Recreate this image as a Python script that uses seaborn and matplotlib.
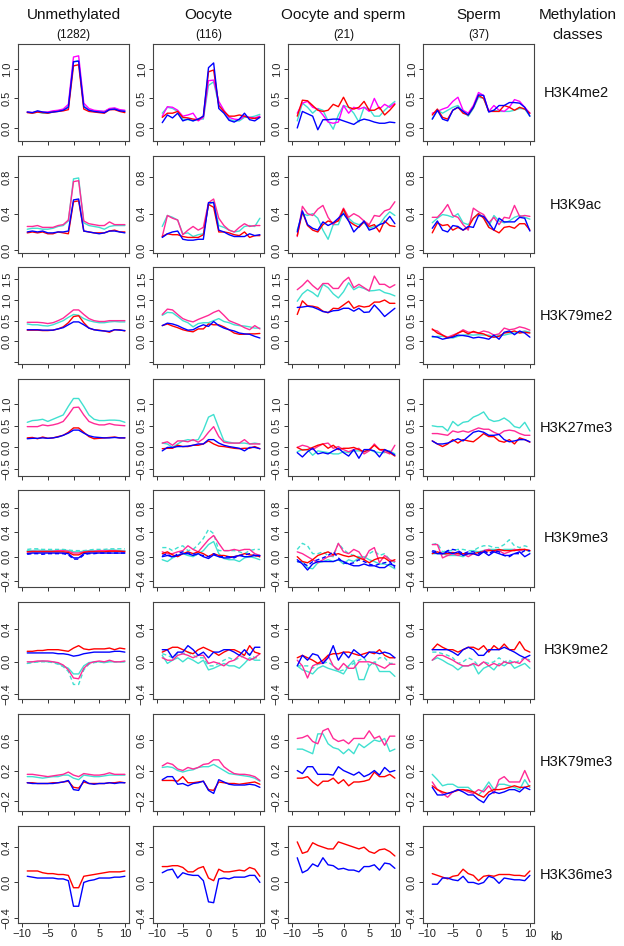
import matplotlib
matplotlib.use("Agg")
import matplotlib.pyplot as plt
import seaborn as sns

# bins along the gene (kb), one value per bin
kb = list(range(-9, 11))

classes = ["Unmethylated", "Oocyte", "Oocyte and sperm", "Sperm"]
class_counts = ["(1282)", "(116)", "(21)", "(37)"]
marks = ["H3K4me2", "H3K9ac", "H3K79me2", "H3K27me3",
         "H3K9me3", "H3K9me2", "H3K79me3", "H3K36me3"]

# each series: one list per methylation class (Unmethylated, Oocyte, Oocyte+sperm, Sperm)
# ---- H3K4me2
k4me2_red = [
    [0.26,0.25,0.27,0.26,0.25,0.27,0.28,0.29,0.31,1.05,1.07,0.32,0.28,0.27,0.26,0.25,0.31,0.31,0.28,0.26],
    [0.18,0.25,0.25,0.28,0.18,0.17,0.15,0.14,0.20,0.95,0.98,0.38,0.28,0.20,0.20,0.22,0.20,0.17,0.16,0.18],
    [0.20,0.47,0.46,0.38,0.30,0.28,0.30,0.40,0.36,0.52,0.35,0.32,0.35,0.45,0.30,0.30,0.35,0.22,0.30,0.40],
    [0.22,0.32,0.18,0.15,0.30,0.35,0.25,0.22,0.35,0.55,0.50,0.28,0.28,0.28,0.38,0.35,0.30,0.35,0.32,0.25]]
k4me2_blue = [
    [0.27,0.26,0.29,0.27,0.26,0.27,0.28,0.30,0.35,1.12,1.13,0.36,0.30,0.28,0.27,0.26,0.31,0.32,0.29,0.28],
    [0.09,0.22,0.17,0.25,0.12,0.15,0.12,0.15,0.20,1.02,1.10,0.33,0.25,0.13,0.10,0.15,0.25,0.14,0.12,0.18],
    [0.00,0.28,0.24,0.20,-0.03,0.14,0.14,0.15,0.15,0.12,0.09,0.06,0.12,0.15,0.13,0.10,0.08,0.08,0.10,0.09],
    [0.15,0.30,0.15,0.12,0.30,0.35,0.28,0.22,0.35,0.56,0.55,0.27,0.30,0.38,0.38,0.43,0.43,0.42,0.35,0.20]]
k4me2_cyan = [
    [0.27,0.25,0.27,0.25,0.25,0.27,0.29,0.31,0.37,1.12,1.14,0.37,0.31,0.29,0.28,0.28,0.32,0.33,0.30,0.29],
    [0.25,0.35,0.33,0.28,0.15,0.14,0.12,0.16,0.15,0.72,0.78,0.40,0.28,0.15,0.12,0.12,0.18,0.18,0.20,0.23],
    [0.12,0.42,0.35,0.25,0.33,0.30,0.12,-0.02,0.22,0.38,0.35,0.25,0.10,0.35,0.32,0.20,0.20,0.30,0.38,0.45],
    [0.15,0.30,0.25,0.30,0.35,0.38,0.28,0.20,0.33,0.52,0.50,0.28,0.30,0.28,0.28,0.28,0.30,0.33,0.32,0.20]]
k4me2_magenta = [
    [0.27,0.26,0.28,0.27,0.27,0.29,0.30,0.32,0.40,1.20,1.22,0.42,0.33,0.30,0.29,0.28,0.33,0.34,0.31,0.30],
    [0.20,0.36,0.35,0.30,0.20,0.22,0.25,0.12,0.18,0.80,0.81,0.45,0.30,0.18,0.15,0.14,0.20,0.18,0.17,0.20],
    [0.25,0.42,0.45,0.35,0.32,0.22,0.10,0.08,0.10,0.38,0.25,0.35,0.32,0.35,0.28,0.50,0.32,0.40,0.35,0.42],
    [0.25,0.28,0.32,0.35,0.45,0.52,0.30,0.25,0.38,0.60,0.55,0.28,0.38,0.30,0.28,0.35,0.48,0.45,0.35,0.25]]

# ---- H3K9ac
k9ac_red = [
    [0.19,0.20,0.19,0.20,0.18,0.18,0.20,0.19,0.18,0.53,0.54,0.21,0.20,0.19,0.19,0.19,0.21,0.22,0.20,0.20],
    [0.15,0.18,0.17,0.17,0.15,0.14,0.14,0.14,0.17,0.50,0.47,0.20,0.20,0.19,0.17,0.16,0.20,0.14,0.16,0.16],
    [0.16,0.42,0.27,0.22,0.20,0.28,0.32,0.30,0.32,0.45,0.32,0.28,0.25,0.31,0.26,0.28,0.20,0.32,0.27,0.26],
    [0.19,0.30,0.27,0.28,0.22,0.25,0.22,0.25,0.35,0.40,0.35,0.25,0.22,0.19,0.25,0.26,0.24,0.29,0.29,0.22]]
k9ac_blue = [
    [0.20,0.21,0.20,0.21,0.19,0.19,0.20,0.20,0.21,0.55,0.56,0.21,0.20,0.19,0.18,0.19,0.21,0.21,0.20,0.19],
    [0.14,0.18,0.20,0.21,0.12,0.11,0.11,0.12,0.12,0.52,0.52,0.22,0.20,0.17,0.15,0.15,0.15,0.18,0.16,0.17],
    [0.20,0.43,0.28,0.24,0.22,0.31,0.27,0.30,0.35,0.40,0.32,0.20,0.26,0.32,0.22,0.24,0.28,0.30,0.37,0.29],
    [0.24,0.32,0.22,0.20,0.27,0.26,0.22,0.26,0.25,0.38,0.37,0.30,0.22,0.35,0.31,0.31,0.31,0.36,0.35,0.21]]
k9ac_cyan = [
    [0.23,0.24,0.24,0.23,0.23,0.24,0.26,0.27,0.32,0.78,0.79,0.30,0.27,0.26,0.25,0.23,0.26,0.27,0.27,0.27],
    [0.26,0.38,0.36,0.33,0.18,0.19,0.15,0.17,0.18,0.50,0.53,0.27,0.25,0.22,0.20,0.21,0.26,0.27,0.26,0.35],
    [0.22,0.40,0.38,0.40,0.35,0.22,0.12,0.28,0.28,0.42,0.35,0.30,0.28,0.30,0.24,0.26,0.28,0.36,0.42,0.38],
    [0.30,0.35,0.39,0.38,0.36,0.40,0.30,0.28,0.35,0.40,0.36,0.26,0.38,0.32,0.30,0.32,0.36,0.38,0.36,0.34]]
k9ac_pink = [
    [0.26,0.26,0.27,0.25,0.25,0.25,0.27,0.28,0.33,0.75,0.76,0.32,0.29,0.28,0.27,0.27,0.31,0.28,0.28,0.28],
    [0.15,0.38,0.35,0.33,0.17,0.22,0.26,0.22,0.25,0.52,0.56,0.35,0.27,0.22,0.20,0.25,0.29,0.26,0.27,0.27],
    [0.15,0.48,0.40,0.38,0.45,0.49,0.36,0.28,0.34,0.46,0.36,0.40,0.37,0.32,0.28,0.38,0.37,0.43,0.45,0.53],
    [0.36,0.36,0.42,0.50,0.38,0.36,0.28,0.22,0.46,0.42,0.39,0.30,0.36,0.28,0.36,0.35,0.49,0.37,0.38,0.37]]

# ---- H3K79me2
k79me2_red = [
    [0.27,0.27,0.27,0.26,0.26,0.27,0.30,0.35,0.45,0.60,0.62,0.45,0.32,0.28,0.27,0.25,0.22,0.28,0.28,0.25],
    [0.38,0.42,0.37,0.33,0.28,0.25,0.23,0.30,0.30,0.42,0.40,0.40,0.35,0.28,0.20,0.17,0.17,0.18,0.18,0.19],
    [0.65,0.98,0.86,0.85,0.82,0.73,0.69,0.80,0.79,0.88,0.97,0.80,0.86,0.83,0.85,0.95,0.95,1.00,0.92,0.92],
    [0.30,0.20,0.15,0.08,0.12,0.20,0.25,0.18,0.24,0.20,0.18,0.12,0.10,0.12,0.20,0.22,0.25,0.20,0.22,0.20]]
k79me2_blue = [
    [0.28,0.28,0.28,0.27,0.27,0.27,0.30,0.33,0.40,0.47,0.47,0.40,0.32,0.28,0.26,0.25,0.24,0.28,0.27,0.26],
    [0.38,0.44,0.42,0.38,0.32,0.27,0.28,0.35,0.40,0.36,0.48,0.38,0.32,0.28,0.25,0.20,0.18,0.17,0.12,0.08],
    [0.82,0.83,0.85,0.83,0.78,0.72,0.70,0.74,0.75,0.80,0.80,0.73,0.80,0.70,0.71,0.88,0.75,0.60,0.70,0.80],
    [0.12,0.10,0.05,0.08,0.10,0.15,0.14,0.12,0.08,0.10,0.08,0.05,0.15,0.05,0.22,0.25,0.16,0.25,0.20,0.10]]
k79me2_cyan = [
    [0.42,0.40,0.40,0.38,0.37,0.40,0.45,0.50,0.58,0.65,0.63,0.55,0.50,0.47,0.45,0.45,0.47,0.48,0.47,0.47],
    [0.63,0.70,0.69,0.60,0.50,0.45,0.35,0.43,0.45,0.45,0.50,0.55,0.48,0.45,0.40,0.38,0.37,0.35,0.32,0.32],
    [0.97,1.15,1.25,1.18,1.08,1.38,1.30,1.15,1.05,1.20,1.42,1.25,1.32,1.28,1.22,1.23,1.25,1.18,1.15,1.10],
    [0.10,0.12,0.12,0.10,0.08,0.12,0.15,0.16,0.15,0.16,0.15,0.15,0.10,0.15,0.15,0.18,0.20,0.22,0.25,0.22]]
k79me2_pink = [
    [0.46,0.46,0.46,0.45,0.43,0.45,0.50,0.56,0.66,0.76,0.76,0.65,0.55,0.50,0.48,0.48,0.50,0.50,0.50,0.50],
    [0.65,0.78,0.76,0.65,0.55,0.50,0.47,0.53,0.58,0.63,0.70,0.75,0.63,0.50,0.45,0.40,0.33,0.28,0.38,0.30],
    [1.25,1.35,1.48,1.35,1.25,1.40,1.40,1.28,1.28,1.45,1.55,1.30,1.38,1.30,1.22,1.58,1.38,1.38,1.30,1.37],
    [0.28,0.25,0.15,0.10,0.15,0.20,0.28,0.22,0.22,0.20,0.25,0.22,0.15,0.18,0.32,0.28,0.30,0.35,0.32,0.27]]

# ---- H3K27me3
k27me3_red = [
    [0.22,0.23,0.20,0.24,0.21,0.22,0.25,0.28,0.35,0.45,0.45,0.35,0.25,0.20,0.21,0.22,0.23,0.24,0.22,0.22],
    [-0.03,-0.02,-0.02,0.05,0.02,0.02,0.05,0.05,0.08,0.15,0.08,0.03,0.02,0.00,-0.02,-0.03,-0.02,-0.02,0.02,-0.03],
    [0.00,-0.06,-0.05,0.00,0.05,0.08,-0.02,0.05,-0.05,-0.02,-0.02,0.00,-0.05,-0.10,-0.05,0.05,-0.05,-0.05,-0.12,-0.20],
    [0.15,0.08,0.02,0.08,0.18,0.10,0.18,0.15,0.13,0.22,0.32,0.25,0.25,0.15,0.12,0.18,0.08,0.22,0.18,0.12]]
k27me3_blue = [
    [0.20,0.21,0.21,0.22,0.21,0.22,0.24,0.28,0.33,0.40,0.40,0.33,0.27,0.24,0.23,0.22,0.22,0.23,0.22,0.22],
    [-0.08,0.00,0.00,0.02,0.02,0.03,0.05,0.08,0.08,0.18,0.18,0.10,0.05,0.02,0.00,-0.02,-0.08,0.00,0.00,-0.03],
    [-0.12,-0.22,-0.10,-0.02,-0.15,-0.12,-0.15,-0.08,-0.02,-0.12,-0.20,-0.05,-0.25,-0.05,-0.05,-0.08,-0.22,-0.05,-0.10,-0.18],
    [0.15,0.08,0.08,0.10,0.15,0.20,0.15,0.25,0.35,0.38,0.35,0.28,0.28,0.30,0.18,0.13,0.15,0.18,0.18,0.13]]
k27me3_cyan = [
    [0.58,0.62,0.63,0.65,0.60,0.65,0.70,0.75,0.95,1.13,1.13,0.95,0.75,0.65,0.62,0.62,0.63,0.63,0.62,0.58],
    [0.10,0.08,0.00,0.08,0.15,0.18,0.16,0.18,0.40,0.70,0.76,0.45,0.15,0.12,0.10,0.10,0.10,0.08,0.10,0.08],
    [-0.10,-0.05,-0.05,-0.18,-0.08,-0.10,-0.12,-0.15,-0.15,-0.10,-0.12,-0.08,-0.08,-0.10,-0.05,-0.10,-0.12,-0.12,-0.08,-0.15],
    [0.50,0.48,0.48,0.38,0.60,0.50,0.58,0.60,0.70,0.75,0.82,0.65,0.60,0.62,0.68,0.60,0.48,0.45,0.58,0.38]]
k27me3_pink = [
    [0.48,0.48,0.48,0.52,0.50,0.52,0.55,0.60,0.75,0.92,0.93,0.75,0.60,0.55,0.52,0.52,0.55,0.52,0.51,0.50],
    [0.10,0.13,0.05,0.15,0.15,0.13,0.18,0.12,0.20,0.35,0.48,0.25,0.12,0.10,0.10,0.10,0.18,0.08,0.08,0.08],
    [0.00,0.05,0.02,-0.05,0.02,0.08,0.10,-0.02,0.02,-0.05,-0.10,-0.05,-0.02,-0.15,-0.08,0.08,-0.05,-0.10,-0.15,0.05],
    [0.32,0.32,0.30,0.28,0.38,0.35,0.38,0.35,0.40,0.45,0.42,0.42,0.35,0.30,0.38,0.40,0.38,0.32,0.28,0.28]]

# ---- H3K9me3 (solid and dashed replicate)
k9me3_red = [
    [0.08,0.08,0.08,0.08,0.08,0.08,0.08,0.08,0.07,0.03,0.03,0.07,0.08,0.08,0.08,0.08,0.09,0.09,0.09,0.08],
    [0.05,0.08,0.03,0.00,0.05,0.08,0.05,0.08,0.05,0.00,0.05,0.02,0.02,0.00,0.00,0.02,0.05,0.03,0.02,0.00],
    [0.00,-0.08,-0.10,-0.05,0.02,0.05,0.08,0.03,0.05,0.02,0.00,0.02,-0.02,-0.05,-0.10,-0.05,-0.02,-0.02,-0.08,-0.05],
    [0.05,0.08,0.05,0.05,0.07,0.05,0.05,0.05,0.05,0.07,0.08,0.10,0.10,0.12,0.10,0.10,0.10,0.12,0.12,0.10]]
k9me3_blue = [
    [0.05,0.06,0.06,0.06,0.06,0.06,0.06,0.06,0.05,-0.02,-0.02,0.05,0.06,0.06,0.06,0.06,0.06,0.06,0.06,0.06],
    [0.00,0.02,0.00,0.02,0.05,0.05,0.02,0.05,0.00,-0.03,0.03,0.00,-0.02,-0.02,0.00,0.02,0.00,0.00,0.02,0.02],
    [-0.05,-0.12,-0.22,-0.12,-0.08,-0.08,-0.08,-0.08,-0.05,-0.08,-0.12,-0.15,-0.15,-0.12,-0.15,-0.15,-0.18,-0.18,-0.12,-0.15],
    [0.08,0.05,0.05,0.08,0.05,0.08,0.02,0.05,0.05,0.02,0.08,0.02,0.08,0.05,0.02,0.02,0.05,0.08,0.00,0.05]]
k9me3_blue_dash = [
    [0.04,0.05,0.05,0.04,0.05,0.05,0.05,0.05,0.03,-0.04,-0.04,0.03,0.05,0.05,0.06,0.06,0.06,0.06,0.06,0.06],
    [0.02,0.05,-0.02,0.05,0.08,0.06,0.05,0.03,0.02,0.00,0.05,0.00,0.00,0.00,-0.02,0.02,0.03,0.05,0.02,0.00],
    [-0.08,-0.10,-0.15,-0.08,-0.05,-0.02,0.02,0.08,-0.02,-0.10,-0.12,-0.10,-0.05,-0.08,-0.12,-0.15,-0.12,-0.10,-0.08,-0.18],
    [0.10,0.08,0.05,0.10,0.12,0.10,0.05,0.08,0.08,0.05,0.10,0.05,0.10,0.08,0.02,0.00,0.05,0.05,0.10,0.10]]
k9me3_cyan = [
    [0.10,0.10,0.11,0.10,0.10,0.10,0.10,0.11,0.10,0.08,0.08,0.09,0.10,0.10,0.10,0.10,0.11,0.11,0.10,0.10],
    [-0.05,-0.08,-0.02,0.02,0.05,0.02,0.00,0.05,0.10,0.20,0.25,0.05,-0.03,-0.05,-0.05,-0.08,-0.02,0.00,-0.02,-0.05],
    [-0.08,-0.08,-0.18,-0.20,-0.10,-0.08,-0.05,-0.08,-0.05,-0.12,-0.05,-0.08,-0.02,0.00,-0.05,-0.08,-0.12,-0.12,-0.15,-0.20],
    [0.05,0.05,0.05,0.02,0.02,0.02,0.00,0.05,0.10,0.08,0.10,0.12,0.12,0.10,0.12,0.12,0.12,0.10,0.12,0.08]]
k9me3_cyan_dash = [
    [0.12,0.13,0.13,0.12,0.12,0.12,0.12,0.12,0.11,0.10,0.10,0.10,0.11,0.12,0.12,0.12,0.13,0.13,0.13,0.13],
    [0.15,0.15,0.10,0.15,0.18,0.10,0.12,0.20,0.30,0.45,0.38,0.10,0.10,0.10,0.10,0.08,0.05,0.10,0.12,0.12],
    [0.12,0.22,0.18,0.05,0.05,0.08,0.02,0.00,0.22,0.12,0.05,0.02,0.00,-0.02,0.05,0.10,0.02,0.05,-0.05,-0.10],
    [0.20,0.22,0.08,0.10,0.10,0.12,0.12,0.10,0.10,0.15,0.18,0.18,0.15,0.15,0.20,0.28,0.18,0.15,0.18,0.15]]
k9me3_pink = [
    [0.08,0.09,0.09,0.09,0.09,0.09,0.10,0.10,0.09,0.06,0.06,0.08,0.09,0.09,0.10,0.10,0.10,0.10,0.09,0.09],
    [0.08,0.05,0.05,0.08,0.10,0.18,0.12,0.08,0.18,0.28,0.35,0.22,0.10,0.10,0.12,0.10,0.12,0.12,0.05,0.02],
    [0.08,0.05,0.00,-0.05,-0.10,-0.05,0.00,0.02,0.22,0.08,0.05,0.12,0.08,-0.05,0.10,0.15,-0.10,0.02,-0.05,-0.08],
    [0.20,0.20,-0.02,0.02,0.05,0.02,0.05,0.00,0.05,0.02,0.10,0.12,0.08,0.10,0.05,0.08,0.12,0.10,0.12,0.10]]

# ---- H3K9me2
k9me2_red = [
    [0.13,0.13,0.14,0.14,0.15,0.15,0.15,0.14,0.13,0.17,0.20,0.16,0.15,0.16,0.16,0.16,0.17,0.15,0.17,0.16],
    [0.12,0.15,0.18,0.18,0.15,0.12,0.10,0.15,0.18,0.15,0.12,0.08,0.12,0.15,0.15,0.12,0.08,0.20,0.12,0.10],
    [0.05,0.08,0.05,0.02,-0.02,0.02,0.08,0.10,0.10,0.12,0.12,0.10,0.08,0.10,0.12,0.10,0.15,0.08,0.05,0.05],
    [0.15,0.22,0.18,0.15,0.15,0.12,0.15,0.18,0.18,0.15,0.20,0.12,0.20,0.15,0.22,0.15,0.15,0.25,0.15,0.12]]
k9me2_blue = [
    [0.11,0.11,0.11,0.11,0.11,0.11,0.10,0.10,0.09,0.07,0.08,0.10,0.11,0.12,0.12,0.12,0.12,0.13,0.13,0.12],
    [0.15,0.15,0.05,0.12,0.12,0.20,0.15,0.08,0.12,0.05,0.12,0.12,0.15,0.15,0.12,0.08,0.15,0.08,0.18,0.18],
    [-0.05,0.08,0.02,0.10,0.08,-0.02,0.05,0.20,0.02,0.12,0.05,0.15,0.10,0.05,0.12,0.12,0.10,0.12,0.10,0.05],
    [0.15,0.15,0.15,0.15,0.12,0.08,0.15,0.18,0.15,0.08,0.08,0.15,0.15,0.15,0.18,0.15,0.12,0.08,0.05,0.08]]
k9me2_cyan = [
    [-0.02,0.00,0.00,0.01,0.00,0.00,-0.02,-0.05,-0.08,-0.15,-0.15,-0.05,-0.01,0.00,0.00,-0.01,0.00,0.00,0.00,0.00],
    [0.08,-0.02,0.02,0.05,0.00,0.05,0.02,-0.02,0.02,-0.10,-0.08,-0.05,-0.02,-0.05,-0.05,-0.08,-0.02,0.05,0.02,0.02],
    [-0.05,-0.10,-0.12,-0.15,-0.08,-0.05,-0.08,-0.10,-0.12,-0.15,-0.05,0.02,-0.22,-0.22,-0.05,0.00,-0.12,-0.12,-0.12,-0.18],
    [0.02,0.05,0.02,-0.02,-0.05,-0.10,-0.05,-0.05,-0.03,-0.15,-0.08,-0.05,-0.10,-0.02,-0.05,0.00,-0.08,-0.05,-0.02,-0.08]]
k9me2_cyan_dash = [
    [-0.02,-0.01,0.00,0.00,0.00,-0.01,-0.03,-0.06,-0.12,-0.28,-0.28,-0.10,-0.03,-0.01,0.00,-0.01,0.01,0.00,0.00,0.00],
    [0.10,0.08,0.05,0.10,0.10,0.12,0.08,0.05,0.05,-0.05,-0.05,-0.02,0.02,0.05,0.02,0.05,0.08,0.10,0.05,0.05],
    [-0.05,-0.05,-0.05,-0.08,-0.03,-0.02,0.00,-0.05,-0.12,-0.10,-0.05,-0.02,0.02,0.05,-0.05,-0.02,0.05,0.05,-0.02,-0.02],
    [0.12,0.12,0.10,0.08,0.05,-0.02,0.00,0.05,0.02,-0.05,0.00,-0.02,0.00,0.05,0.00,0.02,-0.02,0.02,0.05,0.02]]
k9me2_pink = [
    [0.00,0.00,0.01,0.01,0.01,0.00,-0.01,-0.04,-0.10,-0.20,-0.21,-0.08,-0.02,0.00,0.01,0.00,0.02,0.00,0.00,0.01],
    [0.05,0.02,0.02,0.08,0.10,0.08,0.05,0.08,0.08,-0.02,0.00,-0.02,-0.05,0.00,0.02,0.08,0.05,0.02,0.05,0.10],
    [0.02,-0.05,-0.20,-0.05,-0.02,-0.02,0.08,-0.05,-0.10,-0.02,-0.08,-0.08,0.00,0.00,0.00,-0.02,-0.05,-0.08,-0.03,-0.03],
    [0.02,0.08,0.08,0.05,0.02,-0.02,-0.05,-0.05,-0.02,-0.05,0.00,-0.05,-0.02,-0.05,0.00,-0.02,0.00,-0.02,0.05,0.00]]

# ---- H3K79me3
k79me3_red = [
    [0.04,0.04,0.03,0.03,0.03,0.04,0.04,0.05,0.06,-0.02,-0.03,0.05,0.03,0.03,0.03,0.03,0.04,0.04,0.05,0.04],
    [0.07,0.07,0.07,0.06,0.12,0.04,0.04,0.05,0.06,-0.05,-0.06,0.05,0.04,0.03,0.03,0.02,0.03,0.04,0.05,0.02],
    [0.10,0.10,0.12,0.05,0.00,0.06,0.06,0.10,0.03,0.08,0.00,0.05,0.05,0.06,0.08,0.18,0.12,0.12,0.15,0.10],
    [0.00,-0.05,-0.08,-0.10,-0.08,-0.06,-0.05,-0.06,-0.08,-0.12,-0.15,-0.08,-0.05,-0.05,-0.04,-0.02,0.00,-0.02,-0.02,0.00]]
k79me3_blue = [
    [0.04,0.03,0.03,0.03,0.03,0.03,0.04,0.05,0.07,-0.05,-0.06,0.07,0.03,0.02,0.03,0.03,0.04,0.03,0.04,0.04],
    [0.08,0.12,0.12,0.02,0.03,0.00,0.03,0.04,0.06,-0.06,-0.10,0.08,0.05,0.02,0.01,0.01,0.01,0.02,0.01,-0.02],
    [0.20,0.16,0.25,0.25,0.15,0.15,0.15,0.14,0.25,0.20,0.17,0.14,0.18,0.12,0.15,0.20,0.14,0.24,0.18,0.20],
    [-0.02,-0.12,-0.12,-0.10,-0.08,-0.05,-0.08,-0.12,-0.12,-0.18,-0.22,-0.12,-0.08,-0.10,-0.08,-0.05,-0.05,-0.08,-0.02,-0.05]]
k79me3_cyan = [
    [0.12,0.12,0.11,0.10,0.11,0.12,0.12,0.14,0.14,0.10,0.08,0.14,0.13,0.12,0.12,0.13,0.14,0.14,0.14,0.14],
    [0.24,0.25,0.24,0.20,0.18,0.20,0.21,0.24,0.25,0.25,0.28,0.24,0.20,0.16,0.15,0.14,0.13,0.12,0.10,0.06],
    [0.48,0.48,0.45,0.42,0.68,0.68,0.55,0.50,0.48,0.42,0.48,0.42,0.55,0.50,0.55,0.60,0.58,0.62,0.45,0.48],
    [0.15,0.08,0.00,0.02,0.02,-0.02,-0.02,-0.02,-0.08,-0.12,-0.05,0.05,-0.05,0.02,0.02,0.00,-0.02,-0.05,0.08,-0.02]]
k79me3_pink = [
    [0.15,0.15,0.14,0.13,0.12,0.13,0.14,0.15,0.18,0.14,0.12,0.16,0.15,0.14,0.14,0.15,0.17,0.15,0.15,0.15],
    [0.26,0.30,0.28,0.22,0.20,0.24,0.22,0.24,0.28,0.29,0.34,0.34,0.25,0.20,0.16,0.15,0.15,0.14,0.12,0.07],
    [0.62,0.63,0.66,0.58,0.55,0.72,0.75,0.62,0.58,0.60,0.55,0.62,0.62,0.62,0.72,0.62,0.65,0.53,0.65,0.65],
    [0.05,-0.05,-0.10,-0.15,-0.08,-0.05,-0.05,-0.08,-0.10,-0.05,-0.08,0.00,-0.10,0.08,0.12,0.05,0.05,0.05,0.20,0.05]]

# ---- H3K36me3 (two series only)
k36me3_red = [
    [0.13,0.13,0.13,0.11,0.10,0.10,0.09,0.09,0.08,-0.06,-0.06,0.07,0.08,0.09,0.10,0.11,0.12,0.12,0.12,0.13],
    [0.18,0.18,0.19,0.19,0.17,0.12,0.12,0.16,0.18,0.05,0.02,0.15,0.12,0.12,0.13,0.14,0.13,0.17,0.15,0.07],
    [0.46,0.33,0.35,0.45,0.42,0.40,0.38,0.38,0.46,0.44,0.42,0.40,0.38,0.40,0.35,0.33,0.37,0.38,0.35,0.30],
    [0.10,0.08,0.06,0.04,0.07,0.08,0.15,0.10,0.08,0.02,0.07,0.08,0.07,0.09,0.09,0.09,0.08,0.08,0.07,0.13]]
k36me3_blue = [
    [0.07,0.06,0.05,0.05,0.05,0.05,0.04,0.04,0.02,-0.27,-0.27,0.00,0.02,0.03,0.05,0.05,0.05,0.06,0.06,0.07],
    [0.11,0.14,0.15,0.05,0.11,0.09,0.08,0.08,0.02,-0.22,-0.23,0.04,0.05,0.04,0.06,0.06,0.06,0.08,0.08,0.00],
    [0.28,0.11,0.14,0.21,0.18,0.28,0.20,0.19,0.15,0.16,0.14,0.14,0.12,0.18,0.18,0.20,0.14,0.22,0.21,0.16],
    [-0.02,-0.02,0.05,0.05,0.03,0.02,0.07,0.00,0.00,-0.02,0.00,0.07,0.05,-0.01,0.05,0.04,0.03,0.03,0.02,0.08]]

# y ranges and ticks per row (R style)
ylims = [(-0.22, 1.42), (-0.03, 1.03), (-0.55, 1.8), (-0.66, 1.58),
         (-0.5, 1.1), (-0.46, 0.74), (-0.33, 0.94), (-0.46, 0.64)]
yticks = [[0, 0.5, 1.0], [0, 0.4, 0.8], [-0.5, 0, 0.5, 1.0, 1.5], [-0.5, 0, 0.5, 1.0],
          [-0.4, 0, 0.4, 0.8], [-0.4, 0, 0.4], [-0.2, 0.2, 0.6], [-0.4, 0, 0.4]]

styles = {
    "red": ("#FF0000", "-"),
    "blue": ("#0000FF", "-"),
    "cyan": ("#40E0D0", "-"),
    "pink": ("#FF2A96", "-"),
    "magenta": ("#FF00FF", "-"),
    "cyan_d": ("#40E0D0", (0, (3, 2))),
    "blue_d": ("#0000FF", (0, (3, 2))),
}

# drawing order per row (last drawn on top)
row_series = [
    [("cyan", k4me2_cyan), ("magenta", k4me2_magenta), ("red", k4me2_red), ("blue", k4me2_blue)],
    [("cyan", k9ac_cyan), ("pink", k9ac_pink), ("red", k9ac_red), ("blue", k9ac_blue)],
    [("cyan", k79me2_cyan), ("pink", k79me2_pink), ("red", k79me2_red), ("blue", k79me2_blue)],
    [("cyan", k27me3_cyan), ("pink", k27me3_pink), ("red", k27me3_red), ("blue", k27me3_blue)],
    [("cyan_d", k9me3_cyan_dash), ("cyan", k9me3_cyan), ("pink", k9me3_pink),
     ("red", k9me3_red), ("blue_d", k9me3_blue_dash), ("blue", k9me3_blue)],
    [("cyan_d", k9me2_cyan_dash), ("cyan", k9me2_cyan), ("pink", k9me2_pink),
     ("red", k9me2_red), ("blue", k9me2_blue)],
    [("cyan", k79me3_cyan), ("pink", k79me3_pink), ("red", k79me3_red), ("blue", k79me3_blue)],
    [("red", k36me3_red), ("blue", k36me3_blue)],
]

sns.set_style("ticks")
plt.rcParams["font.family"] = ["Liberation Sans", "DejaVu Sans"]

W, H = 624, 946
fig = plt.figure(figsize=(W / 100, H / 100), dpi=100)

col_left = [18, 153, 288, 423]
row_top = [44, 156, 267, 379, 490, 602, 714, 826]
pw, ph = 111, 97

for r in range(8):
    for c in range(4):
        ax = fig.add_axes([col_left[c] / W, 1 - (row_top[r] + ph) / H, pw / W, ph / H])
        for key, vals in row_series[r]:
            color, ls = styles[key]
            sns.lineplot(x=kb, y=vals[c], color=color, linestyle=ls, linewidth=1.0, ax=ax)
        ax.set_xlim(-10.8, 10.8)
        ax.set_ylim(*ylims[r])
        ax.set_xticks([-10, -5, 0, 5, 10])
        ax.set_yticks(yticks[r])
        labels = ["" if (r == 2 and t == -0.5) else f"{t:.1f}".replace("-", "\u2212") for t in yticks[r]]
        ax.set_yticklabels(labels, rotation=90, va="center")
        if r == 7:
            ax.set_xticklabels(["\u221210", "\u22125", "0", "5", "10"])
        else:
            ax.set_xticklabels([])
        ax.set_xlabel("")
        ax.set_ylabel("")
        ax.tick_params(axis="both", direction="out", length=3, width=0.7, color="#333333",
                       labelsize=8, pad=1.5, labelcolor="#222222")
        for sp in ax.spines.values():
            sp.set_visible(True)
            sp.set_color("#444444")
            sp.set_linewidth(0.8)

# column headers
for c in range(4):
    cx = (col_left[c] + pw / 2) / W
    fig.text(cx, 1 - 15 / H, classes[c], ha="center", va="center", fontsize=11, color="#111111")
    fig.text(cx, 1 - 35 / H, class_counts[c], ha="center", va="center", fontsize=8.5, color="#111111")

fig.text(578 / W, 1 - 15 / H, "Methylation", ha="center", va="center", fontsize=11, color="#111111")
fig.text(578 / W, 1 - 35 / H, "classes", ha="center", va="center", fontsize=11, color="#111111")

for r in range(8):
    cy = 1 - (row_top[r] + ph / 2) / H
    fig.text(576 / W, cy, marks[r], ha="center", va="center", fontsize=10.5, color="#111111")

fig.text(556 / W, 1 - 937 / H, "kb", ha="center", va="center", fontsize=8.5, color="#222222")

fig.savefig("out.png", dpi=100)
